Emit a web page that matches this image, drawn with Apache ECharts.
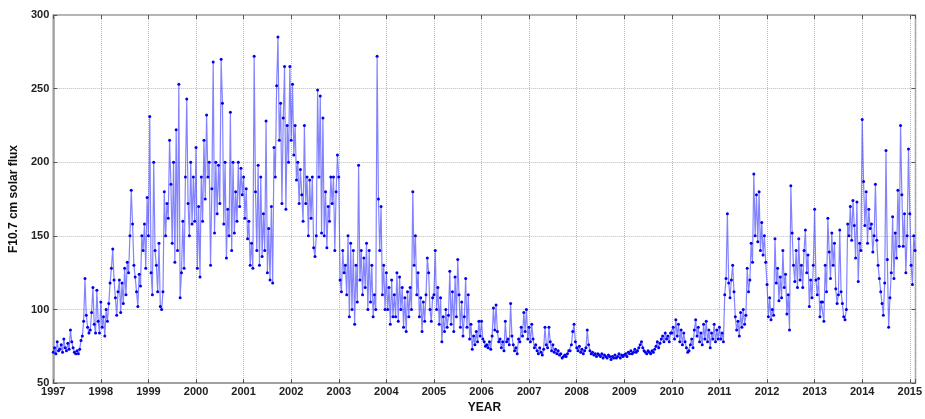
<!DOCTYPE html>
<html>
<head>
<meta charset="utf-8">
<script src="https://cdn.jsdelivr.net/npm/echarts@6/dist/echarts.min.js"></script>
<style>
  html, body { margin: 0; padding: 0; background: #fff; }
  #chart { width: 925px; height: 419px; }
</style>
</head>
<body>
<div id="chart"></div>
<script>
// F10.7 flux, about every 10 days (36 samples per year)
const perYear = 36
const y1997 = [71, 74, 70, 78, 72, 73, 76, 71, 80, 74, 72, 77, 73, 86, 78, 74, 71, 70, 72, 70, 73, 79, 82, 92, 121, 96, 88, 84, 86, 98, 115, 90, 84, 113, 92, 84]
const y1998 = [105, 88, 95, 82, 100, 92, 104, 118, 128, 141, 120, 108, 96, 112, 120, 98, 118, 104, 128, 110, 132, 125, 150, 181, 158, 130, 122, 112, 102, 124, 116, 150, 140, 158, 128, 176]
const y1999 = [150, 231, 125, 110, 200, 140, 130, 112, 145, 102, 100, 112, 180, 150, 172, 162, 215, 185, 145, 200, 132, 222, 140, 253, 108, 125, 160, 128, 190, 243, 172, 150, 200, 158, 190, 160]
const y2000 = [210, 128, 170, 122, 190, 160, 215, 175, 232, 190, 200, 130, 182, 268, 152, 200, 165, 198, 172, 270, 240, 158, 200, 135, 168, 150, 234, 140, 200, 152, 180, 160, 200, 170, 196, 178]
const y2001 = [190, 162, 182, 148, 160, 130, 145, 128, 272, 180, 140, 198, 130, 190, 136, 165, 140, 228, 125, 155, 120, 170, 118, 210, 190, 252, 285, 215, 240, 172, 230, 265, 168, 225, 200, 265]
const y2002 = [215, 253, 205, 225, 188, 200, 172, 195, 178, 160, 225, 172, 190, 150, 188, 162, 190, 142, 136, 150, 249, 190, 245, 152, 230, 150, 180, 142, 170, 160, 190, 172, 190, 140, 180, 205]
const y2003 = [190, 120, 112, 140, 125, 130, 110, 150, 95, 145, 100, 140, 90, 130, 105, 198, 120, 140, 110, 135, 115, 145, 100, 140, 105, 130, 95, 110, 100, 272, 175, 140, 170, 110, 130, 100]
const y2004 = [125, 100, 115, 90, 120, 95, 110, 95, 125, 92, 122, 100, 115, 88, 108, 85, 112, 95, 115, 100, 180, 130, 150, 110, 125, 95, 108, 85, 105, 92, 110, 135, 125, 100, 92, 108]
const y2005 = [110, 140, 100, 115, 90, 108, 78, 95, 85, 100, 88, 96, 126, 90, 112, 85, 122, 95, 134, 110, 88, 105, 82, 95, 121, 88, 110, 80, 90, 73, 82, 76, 85, 78, 92, 82]
const y2006 = [92, 80, 78, 75, 76, 74, 78, 73, 82, 101, 86, 103, 85, 78, 80, 74, 78, 72, 92, 78, 80, 76, 104, 82, 76, 72, 74, 70, 80, 78, 88, 82, 98, 85, 100, 80]
const y2007 = [88, 78, 90, 80, 74, 76, 72, 70, 74, 71, 69, 73, 88, 76, 74, 88, 78, 72, 76, 71, 73, 70, 72, 69, 70, 67, 68, 69, 68, 70, 72, 72, 76, 85, 90, 78]
const y2008 = [74, 72, 75, 71, 73, 70, 72, 74, 86, 76, 72, 70, 71, 69, 70, 68, 70, 69, 68, 70, 67, 69, 68, 67, 69, 68, 66, 68, 67, 69, 67, 68, 70, 67, 69, 68]
const y2009 = [69, 70, 68, 71, 70, 72, 70, 71, 73, 71, 72, 74, 76, 78, 74, 72, 71, 70, 72, 71, 70, 72, 71, 73, 75, 78, 74, 77, 80, 82, 78, 84, 80, 82, 78, 84]
const y2010 = [84, 88, 80, 93, 82, 90, 78, 86, 76, 84, 78, 74, 71, 72, 76, 80, 74, 86, 93, 82, 88, 78, 84, 76, 90, 80, 92, 78, 86, 74, 84, 80, 90, 78, 86, 80]
const y2011 = [88, 80, 84, 78, 110, 121, 165, 118, 108, 120, 130, 112, 95, 86, 92, 82, 98, 88, 100, 90, 96, 128, 112, 120, 145, 132, 192, 150, 178, 146, 180, 140, 159, 137, 150, 132]
const y2012 = [117, 95, 108, 93, 100, 96, 148, 118, 128, 106, 122, 108, 140, 115, 124, 97, 110, 86, 184, 152, 130, 119, 140, 115, 148, 120, 130, 115, 140, 154, 125, 137, 102, 120, 108, 130]
const y2013 = [168, 120, 110, 121, 95, 105, 105, 92, 130, 112, 162, 139, 121, 152, 130, 145, 114, 104, 110, 154, 112, 104, 95, 93, 100, 158, 150, 170, 147, 174, 157, 135, 173, 119, 145, 140]
const y2014 = [229, 187, 157, 180, 145, 168, 155, 158, 139, 150, 185, 147, 130, 121, 112, 104, 96, 118, 208, 134, 88, 108, 125, 163, 121, 152, 135, 181, 143, 225, 178, 143, 165, 125, 150, 209]
const y2015 = [165, 130, 117, 150, 140]

const years = [1997, 1998, 1999, 2000, 2001, 2002, 2003, 2004, 2005, 2006, 2007, 2008, 2009, 2010, 2011, 2012, 2013, 2014, 2015]
const flux = [y1997, y1998, y1999, y2000, y2001, y2002, y2003, y2004, y2005, y2006, y2007, y2008, y2009, y2010, y2011, y2012, y2013, y2014, y2015]

let data = []
years.forEach((yr, k) => {
  flux[k].forEach((v, i) => data.push([yr + i / perYear, v]))
})

const font = 'Liberation Sans, Arial, sans-serif'
const frame = '#9a9a9a'

const chart = echarts.init(document.getElementById('chart'))
const option = {
  animation: false,
  grid: { left: 48, right: 8, top: 15, bottom: 23, show: true, borderColor: frame, borderWidth: 1.5 },
  xAxis: [
    {
      type: 'value',
      min: 1997,
      max: 2015.12,
      interval: 1,
      name: 'YEAR',
      nameLocation: 'middle',
      nameGap: 13,
      nameTextStyle: { fontFamily: font, fontWeight: 'bold', fontSize: 12, color: '#111' },
      axisLine: { lineStyle: { color: frame, width: 1.5 } },
      axisTick: { inside: true, length: 4, lineStyle: { color: '#555' } },
      axisLabel: {
        margin: 3,
        fontFamily: font,
        fontSize: 11,
        fontWeight: 'bold',
        color: '#222',
        formatter: function (v) { return Number.isInteger(v) ? String(v) : '' }
      },
      splitLine: { show: true, lineStyle: { type: 'dotted', color: '#bbb' } }
    },
    {
      type: 'value',
      position: 'top',
      min: 1997,
      max: 2015.12,
      interval: 1,
      axisLine: { show: false },
      axisTick: { inside: true, length: 4, lineStyle: { color: '#555' } },
      axisLabel: { show: false },
      splitLine: { show: false }
    }
  ],
  yAxis: [
    {
      type: 'value',
      min: 50,
      max: 300,
      interval: 50,
      name: 'F10.7 cm solar flux',
      nameLocation: 'middle',
      nameGap: 32,
      nameTextStyle: { fontFamily: font, fontWeight: 'bold', fontSize: 12, color: '#111' },
      axisLine: { show: true, lineStyle: { color: frame, width: 1.5 } },
      axisTick: { show: true, inside: true, length: 4, lineStyle: { color: '#555' } },
      axisLabel: { margin: 4, fontFamily: font, fontSize: 11, fontWeight: 'bold', color: '#222' },
      splitLine: { show: true, lineStyle: { type: 'dotted', color: '#bbb' } }
    },
    {
      type: 'value',
      position: 'right',
      min: 50,
      max: 300,
      interval: 50,
      axisLine: { show: false },
      axisTick: { show: true, inside: true, length: 4, lineStyle: { color: '#555' } },
      axisLabel: { show: false },
      splitLine: { show: false }
    }
  ],
  series: [
    {
      type: 'line',
      data: data,
      xAxisIndex: 0,
      yAxisIndex: 0,
      symbol: 'circle',
      symbolSize: 3,
      showSymbol: true,
      itemStyle: { color: '#0000ee' },
      lineStyle: { color: 'rgba(30, 30, 255, 0.55)', width: 1.2 }
    }
  ]
}
chart.setOption(option)
</script>
</body>
</html>
